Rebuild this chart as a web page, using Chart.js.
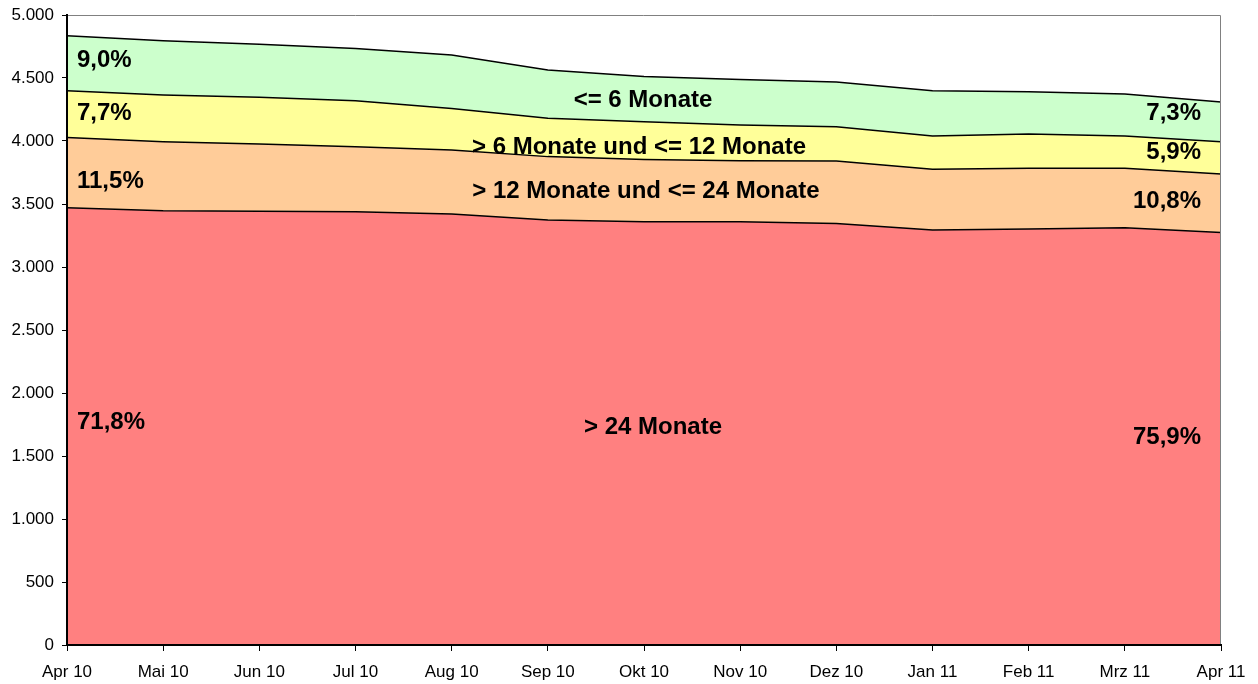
<!DOCTYPE html>
<html>
<head>
<meta charset="utf-8">
<script src="https://cdn.jsdelivr.net/npm/chart.js@4"></script>
<style>
  html, body { margin: 0; padding: 0; background: #fff; }
  #wrap { width: 1258px; height: 684px; }
</style>
</head>
<body>
<div id="wrap"><canvas id="myChart" width="1258" height="684"></canvas></div>
<script>
// months on the x axis
const months = ['Apr 10', 'Mai 10', 'Jun 10', 'Jul 10', 'Aug 10', 'Sep 10', 'Okt 10',
  'Nov 10', 'Dez 10', 'Jan 11', 'Feb 11', 'Mrz 11', 'Apr 11'];

// stacked series, bottom to top
const over24 = [3471, 3447, 3442, 3439, 3421, 3373, 3360, 3360, 3346, 3294, 3302, 3312, 3273];
const from12to24 = [557, 548, 534, 516, 508, 503, 494, 484, 495, 481, 481, 471, 466];
const from6to12 = [371, 370, 371, 365, 329, 304, 299, 283, 273, 265, 273, 257, 255];
const upTo6 = [436, 431, 420, 415, 425, 383, 358, 362, 354, 359, 335, 333, 315];

const seriesNames = ['> 24 Monate', '> 12 Monate und <= 24 Monate', '> 6 Monate und <= 12 Monate', '<= 6 Monate'];
const seriesColors = ['#FF8080', '#FFCC99', '#FFFF99', '#CCFFCC'];

// shares shown at the first and last month (bottom to top)
const firstShares = ['71,8%', '11,5%', '7,7%', '9,0%'];
const lastShares = ['75,9%', '10,8%', '5,9%', '7,3%'];

const yTicks = [0, 500, 1000, 1500, 2000, 2500, 3000, 3500, 4000, 4500, 5000];

const FONT = '"Liberation Sans", Arial, sans-serif';

function fmtDe(v) {
  return String(v).replace(/\B(?=(\d{3})+(?!\d))/g, '.');
}

// grey frame on top/right, black axes on left/bottom drawn over the areas
const frameBox = {
  id: 'frameBox',
  afterDatasetsDraw(chart) {
    const { ctx, chartArea: a } = chart;
    ctx.save();
    ctx.strokeStyle = '#808080';
    ctx.lineWidth = 1;
    ctx.beginPath();
    ctx.moveTo(a.left, a.top + 0.5);
    ctx.lineTo(a.right - 0.5, a.top + 0.5);
    ctx.lineTo(a.right - 0.5, a.bottom);
    ctx.stroke();
    ctx.strokeStyle = '#000';
    ctx.lineWidth = 2;
    ctx.beginPath();
    ctx.moveTo(a.left, a.top);
    ctx.lineTo(a.left, a.bottom);
    ctx.lineTo(a.right, a.bottom);
    ctx.stroke();
    ctx.restore();
  }
};

const areaLabels = {
  id: 'areaLabels',
  afterDatasetsDraw(chart) {
    const { ctx, chartArea: a, scales } = chart;
    const y = scales.y, x = scales.x;
    ctx.save();
    ctx.fillStyle = '#000';
    ctx.font = 'bold 24px ' + FONT;
    ctx.textBaseline = 'middle';

    // label heights in axis units, bottom to top
    const leftAt = [1770, 3683, 4222, 4643];
    const rightAt = [1651, 3524, 3913, 4222];
    const nameAt = [1730, 3603, 3952, 4325];
    const nameDx = [9, 2, -5, -1];

    for (let s = 0; s < 4; s++) {
      ctx.textAlign = 'left';
      ctx.fillText(firstShares[s], a.left + 10, y.getPixelForValue(leftAt[s]));
      ctx.textAlign = 'right';
      ctx.fillText(lastShares[s], a.right - 20, y.getPixelForValue(rightAt[s]));
      ctx.textAlign = 'center';
      ctx.fillText(seriesNames[s], x.getPixelForValue(6) + nameDx[s], y.getPixelForValue(nameAt[s]));
    }
    ctx.restore();
  }
};

const datasets = [over24, from12to24, from6to12, upTo6].map((vals, i) => ({
  label: seriesNames[i],
  data: vals,
  backgroundColor: seriesColors[i],
  borderColor: '#000',
  borderWidth: 1.5,
  fill: i === 0 ? 'origin' : '-1',
  pointRadius: 0,
  tension: 0
}));

const ctx = document.getElementById('myChart').getContext('2d');
new Chart(ctx, {
  type: 'line',
  data: { labels: months, datasets: datasets },
  options: {
    responsive: false,
    animation: false,
    layout: { padding: { top: 15, right: 37, left: 0, bottom: 0 } },
    plugins: { legend: { display: false }, tooltip: { enabled: false } },
    scales: {
      x: {
        offset: false,
        grid: { drawOnChartArea: false, tickLength: 6, color: '#000' },
        border: { color: '#000', width: 2 },
        ticks: { color: '#000', font: { family: FONT, size: 17 }, maxRotation: 0, autoSkip: false, padding: 11 },
        afterFit(scale) { scale.height = 39; scale.paddingLeft = 0; scale.paddingRight = 0; }
      },
      y: {
        stacked: true,
        min: 0,
        max: 5000,
        afterBuildTicks(scale) { scale.ticks = yTicks.map(v => ({ value: v })); },
        grid: { drawOnChartArea: false, tickLength: 5, color: '#000' },
        border: { color: '#000', width: 2 },
        ticks: { color: '#000', font: { family: FONT, size: 17 }, padding: 8, callback: v => fmtDe(v) },
        afterFit(scale) { scale.width = 67; scale.paddingTop = 0; scale.paddingBottom = 0; }
      }
    }
  },
  plugins: [frameBox, areaLabels]
});
</script>
</body>
</html>
